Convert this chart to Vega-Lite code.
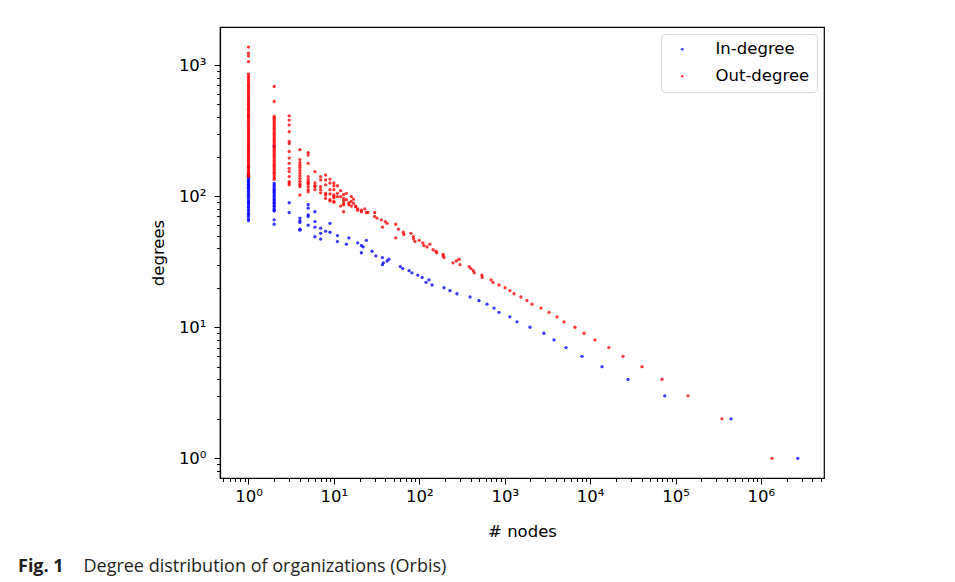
{
  "$schema": "https://vega.github.io/schema/vega-lite/v6.json",
  "width": 604,
  "height": 451,
  "autosize": {"type": "none"},
  "padding": {"left": 220, "top": 27, "right": 131, "bottom": 104},
  "background": "white",
  "config": {
    "view": {"stroke": "#000000", "strokeWidth": 1.2},
    "font": "DejaVu Sans"
  },
  "title": {
    "text": "Fig. 1",
    "subtitle": "\u200b\u00a0\u00a0\u00a0\u00a0\u00a0\u00a0\u00a0\u00a0\u00a0\u00a0\u00a0\u00a0\u00a0\u00a0Degree distribution of organizations (Orbis)",
    "orient": "bottom",
    "anchor": "start",
    "frame": "group",
    "dx": -202,
    "offset": 18,
    "font": "Open Sans",
    "fontSize": 18,
    "fontWeight": "bold",
    "color": "#231f20",
    "subtitleFont": "Open Sans",
    "subtitleFontSize": 18,
    "subtitleColor": "#231f20",
    "subtitlePadding": -18
  },
  "datasets": {
    "indeg": [
      {"n":2700000,"d":1},{"n":447000,"d":2},{"n":75000,"d":3},{"n":27800,"d":4},{"n":13800,"d":5},{"n":8040,"d":6},{"n":5220,"d":7},{"n":3780,"d":8},{"n":2880,"d":9},{"n":1980,"d":10},
      {"n":1393,"d":11},{"n":1150,"d":12},{"n":857,"d":13},{"n":750,"d":14},{"n":621,"d":15},{"n":500,"d":16},{"n":393,"d":17},{"n":276,"d":18},{"n":229,"d":19},{"n":195,"d":20},
      {"n":141,"d":21},{"n":120,"d":22},{"n":130,"d":23},{"n":108,"d":24},{"n":96,"d":25},{"n":82,"d":26},{"n":76,"d":27},{"n":64,"d":28},{"n":60,"d":29},{"n":37,"d":30},
      {"n":38,"d":31},{"n":42,"d":32},{"n":44,"d":33},{"n":37,"d":34},{"n":31,"d":35},{"n":21,"d":37},{"n":28,"d":38},{"n":22,"d":41},{"n":21,"d":42},{"n":14,"d":43},
      {"n":19,"d":44},{"n":11,"d":45},{"n":24,"d":46},{"n":7,"d":47},{"n":15,"d":48},{"n":6,"d":49},{"n":11,"d":50},{"n":7,"d":52},{"n":9,"d":53},{"n":8,"d":54},
      {"n":4,"d":55},{"n":4,"d":56},{"n":7,"d":57},{"n":6,"d":58},{"n":5,"d":60},{"n":9,"d":62},{"n":4,"d":63},{"n":6,"d":64},{"n":4,"d":65},{"n":4,"d":68},
      {"n":5,"d":70},{"n":5,"d":72},{"n":3,"d":75},{"n":6,"d":76},{"n":5,"d":81},{"n":5,"d":86},{"n":3,"d":89},
      {"n":2,"d":125},{"n":2,"d":121},{"n":2,"d":117},{"n":2,"d":113},{"n":2,"d":110},{"n":2,"d":107},{"n":2,"d":104},{"n":2,"d":101},{"n":2,"d":98},{"n":2,"d":95},
      {"n":2,"d":93},{"n":2,"d":90},{"n":2,"d":88},{"n":2,"d":85},{"n":2,"d":83},{"n":2,"d":80},{"n":2,"d":78},{"n":2,"d":77},{"n":2,"d":66},{"n":2,"d":61},{"n":2,"d":240},
      {"n":1,"d":150},{"n":1,"d":146},{"n":1,"d":142},{"n":1,"d":138},{"n":1,"d":134},{"n":1,"d":131},{"n":1,"d":128},{"n":1,"d":126},{"n":1,"d":123},{"n":1,"d":120},
      {"n":1,"d":118},{"n":1,"d":115},{"n":1,"d":112},{"n":1,"d":109},{"n":1,"d":106},{"n":1,"d":103},{"n":1,"d":100},{"n":1,"d":97},{"n":1,"d":94},{"n":1,"d":91},
      {"n":1,"d":89},{"n":1,"d":87},{"n":1,"d":84},{"n":1,"d":82},{"n":1,"d":79},{"n":1,"d":77},{"n":1,"d":74},{"n":1,"d":72},{"n":1,"d":70},{"n":1,"d":67},
      {"n":1,"d":65},{"n":1,"d":168},{"n":1,"d":410}
    ],
    "outdeg": [
      {"n":1350000,"d":1},{"n":350000,"d":2},{"n":140000,"d":3},{"n":69500,"d":4},{"n":40500,"d":5},{"n":24300,"d":6},{"n":16600,"d":7},{"n":11400,"d":8},{"n":8490,"d":9},{"n":6650,"d":10},
      {"n":4950,"d":11},{"n":4090,"d":12},{"n":3300,"d":13},{"n":2660,"d":14},{"n":2090,"d":15},{"n":1820,"d":16},{"n":1550,"d":17},{"n":1285,"d":18},{"n":1150,"d":19},{"n":1010,"d":20},
      {"n":857,"d":21},{"n":730,"d":22},{"n":690,"d":23},{"n":545,"d":24},{"n":540,"d":25},{"n":440,"d":26},{"n":430,"d":27},{"n":403,"d":28},{"n":385,"d":29},{"n":300,"d":30},
      {"n":248,"d":31},{"n":272,"d":32},{"n":292,"d":33},{"n":195,"d":34},{"n":190,"d":35},{"n":190,"d":36},{"n":160,"d":37},{"n":157,"d":38},{"n":145,"d":39},{"n":123,"d":41},
      {"n":113,"d":42},{"n":133,"d":43},{"n":110,"d":44},{"n":89,"d":45},{"n":100,"d":46},{"n":86,"d":47},{"n":53,"d":48},{"n":85,"d":49},{"n":66,"d":51},{"n":80,"d":52},
      {"n":65,"d":53},{"n":57,"d":56},{"n":53,"d":61},{"n":42,"d":62},{"n":40,"d":64},{"n":36,"d":66},{"n":32,"d":68},{"n":30,"d":70},{"n":37,"d":58},{"n":30,"d":75},
      {"n":25,"d":75},{"n":24,"d":75},{"n":23,"d":80},{"n":21,"d":76},{"n":21,"d":78},{"n":19,"d":78},{"n":19,"d":80},{"n":18,"d":83},{"n":18,"d":84},{"n":17,"d":88},
      {"n":17,"d":95},{"n":16,"d":99},{"n":16,"d":91},{"n":16,"d":84},{"n":15,"d":86},{"n":15,"d":89},{"n":14,"d":105},{"n":14,"d":94},{"n":13,"d":103},{"n":13,"d":96},
      {"n":13,"d":88},{"n":13,"d":92},{"n":13,"d":86},{"n":13,"d":76},{"n":12,"d":110},{"n":12,"d":99},{"n":12,"d":84},{"n":11,"d":120},{"n":11,"d":105},{"n":11,"d":99},
      {"n":10,"d":126},{"n":10,"d":120},{"n":10,"d":112},{"n":10,"d":102},{"n":10,"d":91},{"n":10,"d":100},{"n":10,"d":97},{"n":10,"d":90},
      {"n":9,"d":135},{"n":9,"d":126},{"n":9,"d":112},{"n":9,"d":94},{"n":9,"d":104},{"n":9,"d":92},
      {"n":8,"d":145},{"n":8,"d":133},{"n":8,"d":122},{"n":8,"d":105},{"n":8,"d":96},{"n":8,"d":102},
      {"n":7,"d":141},{"n":7,"d":133},{"n":7,"d":118},{"n":7,"d":106},{"n":7,"d":112},
      {"n":6,"d":154},{"n":6,"d":126},{"n":6,"d":118},{"n":6,"d":112},{"n":6,"d":120},
      {"n":5,"d":215},{"n":5,"d":206},{"n":5,"d":178},{"n":5,"d":141},{"n":5,"d":134},{"n":5,"d":129},{"n":5,"d":124},{"n":5,"d":118},{"n":5,"d":112},{"n":5,"d":108},{"n":5,"d":126},
      {"n":4,"d":226},{"n":4,"d":190},{"n":4,"d":180},{"n":4,"d":172},{"n":4,"d":165},{"n":4,"d":157},{"n":4,"d":150},{"n":4,"d":143},{"n":4,"d":136},{"n":4,"d":130},{"n":4,"d":124},{"n":4,"d":118},{"n":4,"d":102},{"n":4,"d":122},
      {"n":3,"d":410},{"n":3,"d":380},{"n":3,"d":350},{"n":3,"d":310},{"n":3,"d":262},{"n":3,"d":252},{"n":3,"d":219},{"n":3,"d":195},{"n":3,"d":178},{"n":3,"d":163},{"n":3,"d":154},{"n":3,"d":141},{"n":3,"d":129},{"n":3,"d":122},{"n":3,"d":126},
      {"n":2,"d":687},{"n":2,"d":527},{"n":2,"d":405},{"n":2,"d":395},{"n":2,"d":384},{"n":2,"d":372},{"n":2,"d":361},{"n":2,"d":350},{"n":2,"d":339},{"n":2,"d":329},
      {"n":2,"d":319},{"n":2,"d":309},{"n":2,"d":299},{"n":2,"d":290},{"n":2,"d":281},{"n":2,"d":272},{"n":2,"d":264},{"n":2,"d":256},{"n":2,"d":248},{"n":2,"d":241},
      {"n":2,"d":234},{"n":2,"d":227},{"n":2,"d":220},{"n":2,"d":213},{"n":2,"d":207},{"n":2,"d":201},{"n":2,"d":195},{"n":2,"d":189},{"n":2,"d":183},{"n":2,"d":177},
      {"n":2,"d":172},{"n":2,"d":167},{"n":2,"d":162},{"n":2,"d":157},{"n":2,"d":152},{"n":2,"d":148},{"n":2,"d":143},{"n":2,"d":138},{"n":2,"d":134},
      {"n":1,"d":1370},{"n":1,"d":1230},{"n":1,"d":1170},{"n":1,"d":1060},{"n":1,"d":850},{"n":1,"d":820},{"n":1,"d":795},{"n":1,"d":770},{"n":1,"d":745},{"n":1,"d":720},
      {"n":1,"d":700},{"n":1,"d":680},{"n":1,"d":660},{"n":1,"d":640},{"n":1,"d":620},{"n":1,"d":600},{"n":1,"d":582},{"n":1,"d":565},{"n":1,"d":548},{"n":1,"d":532},
      {"n":1,"d":516},{"n":1,"d":501},{"n":1,"d":487},{"n":1,"d":473},{"n":1,"d":460},{"n":1,"d":447},{"n":1,"d":435},{"n":1,"d":423},{"n":1,"d":411},{"n":1,"d":399},
      {"n":1,"d":388},{"n":1,"d":377},{"n":1,"d":366},{"n":1,"d":356},{"n":1,"d":346},{"n":1,"d":336},{"n":1,"d":327},{"n":1,"d":318},{"n":1,"d":309},{"n":1,"d":300},
      {"n":1,"d":292},{"n":1,"d":284},{"n":1,"d":276},{"n":1,"d":268},{"n":1,"d":261},{"n":1,"d":254},{"n":1,"d":247},{"n":1,"d":240},{"n":1,"d":234},{"n":1,"d":228},
      {"n":1,"d":222},{"n":1,"d":216},{"n":1,"d":210},{"n":1,"d":204},{"n":1,"d":199},{"n":1,"d":194},{"n":1,"d":189},{"n":1,"d":184},{"n":1,"d":179},{"n":1,"d":174},
      {"n":1,"d":170},{"n":1,"d":166},{"n":1,"d":162},{"n":1,"d":158},{"n":1,"d":154},{"n":1,"d":150},{"n":1,"d":147},{"n":1,"d":144},{"n":1,"d":141}
    ]
  },
  "encoding": {
    "x": {
      "field": "n",
      "type": "quantitative",
      "scale": {"type": "log", "domain": [0.464, 5480000], "nice": false},
      "axis": {
        "title": "# nodes",
        "titleFont": "DejaVu Sans",
        "titleFontSize": 16.5,
        "titleFontWeight": "normal",
        "titleColor": "#000000",
        "titlePadding": 19,
        "values": [0.5,0.6,0.7,0.8,0.9,1,2,3,4,5,6,7,8,9,10,20,30,40,50,60,70,80,90,100,200,300,400,500,600,700,800,900,1000,2000,3000,4000,5000,6000,7000,8000,9000,10000,20000,30000,40000,50000,60000,70000,80000,90000,100000,200000,300000,400000,500000,600000,700000,800000,900000,1000000,2000000,3000000,4000000,5000000],
        "labelExpr": "datum.value == 1 ? '10⁰' : datum.value == 10 ? '10¹' : datum.value == 100 ? '10²' : datum.value == 1000 ? '10³' : datum.value == 10000 ? '10⁴' : datum.value == 100000 ? '10⁵' : datum.value == 1000000 ? '10⁶' : ''",
        "labelFont": "DejaVu Sans",
        "labelFontSize": 16.5,
        "labelColor": "#000000",
        "labelPadding": 4,
        "labelOverlap": false,
        "labelFlush": false,
        "labelBound": false,
        "tickSize": {"condition": {"test": "indexof([1,10,100,1000,10000,100000,1000000], datum.value) >= 0", "value": 6}, "value": 3.5},
        "tickColor": "#000000",
        "tickWidth": 1,
        "domainColor": "#000000",
        "domainWidth": 1.2,
        "grid": false
      }
    },
    "y": {
      "field": "d",
      "type": "quantitative",
      "scale": {"type": "log", "domain": [0.708, 1950], "nice": false},
      "axis": {
        "title": "degrees",
        "titleFont": "DejaVu Sans",
        "titleFontSize": 16.5,
        "titleFontWeight": "normal",
        "titleColor": "#000000",
        "titlePadding": 12,
        "values": [0.8,0.9,1,2,3,4,5,6,7,8,9,10,20,30,40,50,60,70,80,90,100,200,300,400,500,600,700,800,900,1000],
        "labelExpr": "datum.value == 1 ? '10⁰' : datum.value == 10 ? '10¹' : datum.value == 100 ? '10²' : datum.value == 1000 ? '10³' : ''",
        "labelFont": "DejaVu Sans",
        "labelFontSize": 16.5,
        "labelColor": "#000000",
        "labelPadding": 8,
        "labelOverlap": false,
        "labelFlush": false,
        "labelBound": false,
        "tickSize": {"condition": {"test": "indexof([1,10,100,1000], datum.value) >= 0", "value": 6}, "value": 3.5},
        "tickColor": "#000000",
        "tickWidth": 1,
        "domainColor": "#000000",
        "domainWidth": 1.2,
        "grid": false
      }
    },
    "color": {
      "datum": "In-degree",
      "type": "nominal",
      "scale": {"domain": ["In-degree", "Out-degree"], "range": ["#0000ff", "#ff0000"]},
      "legend": {
        "title": null,
        "orient": "top-right",
        "offset": 7,
        "padding": 7,
        "strokeColor": "#d8d8d8",
        "cornerRadius": 4,
        "fillColor": "#ffffff",
        "symbolType": "circle",
        "symbolSize": 7,
        "symbolOpacity": 0.8,
        "symbolOffset": 6,
        "labelOffset": 25,
        "labelFont": "DejaVu Sans",
        "labelFontSize": 16.5,
        "labelColor": "#000000",
        "rowPadding": 10
      }
    }
  },
  "layer": [
    {
      "data": {"name": "indeg"},
      "mark": {"type": "circle", "size": 11, "opacity": 0.78},
      "encoding": {"color": {"datum": "In-degree", "type": "nominal"}}
    },
    {
      "data": {"name": "outdeg"},
      "mark": {"type": "circle", "size": 11, "opacity": 0.78},
      "encoding": {"color": {"datum": "Out-degree", "type": "nominal"}}
    }
  ]
}
